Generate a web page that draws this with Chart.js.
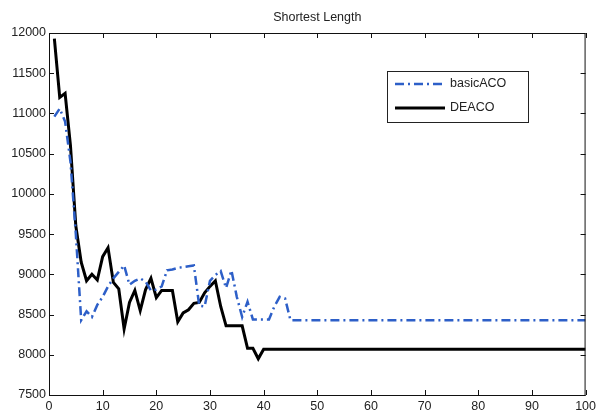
<!DOCTYPE html>
<html lang="en">
<head>
    <meta charset="UTF-8">
    <title>Shortest Length</title>
    <script src="https://cdn.jsdelivr.net/npm/chart.js"></script>
    <style>
        html, body { margin: 0; padding: 0; background: #fff; }
        canvas { display: block; }
    </style>
</head>
<body>
    <canvas id="lenChart" width="600" height="413"></canvas>
    <script>
        // iteration number on the x axis
        const iterations = [
            1, 2, 3, 4, 5, 6, 7, 8, 9, 10,
            11, 12, 13, 14, 15, 16, 17, 18, 19, 20,
            21, 22, 23, 24, 25, 26, 27, 28, 29, 30,
            31, 32, 33, 34, 35, 36, 37, 38, 39, 40,
            41, 42, 43, 44, 45, 46, 47, 48, 49, 50,
            51, 52, 53, 54, 55, 56, 57, 58, 59, 60,
            61, 62, 63, 64, 65, 66, 67, 68, 69, 70,
            71, 72, 73, 74, 75, 76, 77, 78, 79, 80,
            81, 82, 83, 84, 85, 86, 87, 88, 89, 90,
            91, 92, 93, 94, 95, 96, 97, 98, 99, 100
        ];

        const basicACO = [
            10960, 11060, 10900, 10400, 9500, 8430, 8540, 8470, 8620, 8720,
            8850, 8950, 9030, 9110, 8870, 8920, 8950, 8910, 8800, 8810,
            8850, 9050, 9060, 9080, 9090, 9100, 9110, 8610, 8600, 8920,
            8990, 9040, 8830, 9050, 8720, 8470, 8660, 8440, 8440, 8440,
            8440, 8600, 8720, 8700, 8430, 8430, 8430, 8430, 8430, 8430,
            8430, 8430, 8430, 8430, 8430, 8430, 8430, 8430, 8430, 8430,
            8430, 8430, 8430, 8430, 8430, 8430, 8430, 8430, 8430, 8430,
            8430, 8430, 8430, 8430, 8430, 8430, 8430, 8430, 8430, 8430,
            8430, 8430, 8430, 8430, 8430, 8430, 8430, 8430, 8430, 8430,
            8430, 8430, 8430, 8430, 8430, 8430, 8430, 8430, 8430, 8430
        ];

        const deACO = [
            11930, 11200, 11250, 10600, 9600, 9150, 8920, 9000, 8930, 9220,
            9330, 8900, 8820, 8320, 8650, 8800, 8550, 8810, 8950, 8710,
            8800, 8800, 8800, 8410, 8520, 8560, 8640, 8650, 8770, 8850,
            8920, 8600, 8360, 8360, 8360, 8360, 8080, 8080, 7950, 8070,
            8070, 8070, 8070, 8070, 8070, 8070, 8070, 8070, 8070, 8070,
            8070, 8070, 8070, 8070, 8070, 8070, 8070, 8070, 8070, 8070,
            8070, 8070, 8070, 8070, 8070, 8070, 8070, 8070, 8070, 8070,
            8070, 8070, 8070, 8070, 8070, 8070, 8070, 8070, 8070, 8070,
            8070, 8070, 8070, 8070, 8070, 8070, 8070, 8070, 8070, 8070,
            8070, 8070, 8070, 8070, 8070, 8070, 8070, 8070, 8070, 8070
        ];

        const seriesNames = ['basicACO', 'DEACO'];
        const xTicks = [0, 10, 20, 30, 40, 50, 60, 70, 80, 90, 100];
        const yTicks = [7500, 8000, 8500, 9000, 9500, 10000, 10500, 11000, 11500, 12000];

        const blue = 'rgb(45, 95, 200)';
        const fontFamily = '"Liberation Sans", Arial, sans-serif';
        const dashDot = [9, 4, 2, 4];

        const toPoints = (ys) => iterations.map((x, i) => ({ x: x, y: ys[i] }));

        // box frame, inward ticks, title and legend (matlab look)
        const framePlugin = {
            id: 'frame',
            afterDraw(chart) {
                const c = chart.ctx;
                const a = chart.chartArea;
                const xs = chart.scales.x;
                const ys = chart.scales.y;
                c.save();
                c.strokeStyle = '#111';
                c.lineWidth = 1;
                c.strokeRect(a.left + 0.5, a.top + 0.5, a.right - a.left - 1, a.bottom - a.top);
                c.beginPath();
                xTicks.forEach(t => {
                    const px = Math.round(xs.getPixelForValue(t)) + 0.5;
                    c.moveTo(px, a.bottom); c.lineTo(px, a.bottom - 5);
                    c.moveTo(px, a.top); c.lineTo(px, a.top + 5);
                });
                yTicks.forEach(t => {
                    const py = Math.round(ys.getPixelForValue(t)) + 0.5;
                    c.moveTo(a.left, py); c.lineTo(a.left + 5, py);
                    c.moveTo(a.right, py); c.lineTo(a.right - 5, py);
                });
                c.stroke();

                // title
                c.fillStyle = '#222';
                c.font = '12.5px ' + fontFamily;
                c.textAlign = 'center';
                c.textBaseline = 'middle';
                c.fillText('Shortest Length', (a.left + a.right) / 2, 18);

                // legend
                c.fillStyle = '#fff';
                c.fillRect(387, 71, 141, 51);
                c.strokeStyle = '#222';
                c.strokeRect(387.5, 71.5, 141, 51);
                c.lineWidth = 2.5;
                c.strokeStyle = blue;
                c.setLineDash(dashDot);
                c.beginPath(); c.moveTo(395, 84); c.lineTo(445, 84); c.stroke();
                c.setLineDash([]);
                c.lineWidth = 3;
                c.strokeStyle = '#000';
                c.beginPath(); c.moveTo(395, 108); c.lineTo(445, 108); c.stroke();
                c.fillStyle = '#222';
                c.textAlign = 'left';
                c.fillText(seriesNames[0], 450, 84);
                c.fillText(seriesNames[1], 450, 108);
                c.restore();
            }
        };

        const ctx = document.getElementById('lenChart').getContext('2d');
        new Chart(ctx, {
            type: 'line',
            data: {
                datasets: [
                    {
                        label: seriesNames[0],
                        data: toPoints(basicACO),
                        borderColor: blue,
                        borderWidth: 2.5,
                        borderDash: dashDot
                    },
                    {
                        label: seriesNames[1],
                        data: toPoints(deACO),
                        borderColor: '#000',
                        borderWidth: 3
                    }
                ]
            },
            options: {
                responsive: false,
                animation: false,
                layout: { padding: { top: 33, right: 11, left: 0, bottom: 0 } },
                elements: {
                    point: { radius: 0 },
                    line: { tension: 0, borderJoinStyle: 'miter' }
                },
                scales: {
                    x: {
                        type: 'linear',
                        min: 0,
                        max: 100,
                        grid: { display: false, drawTicks: false },
                        border: { display: false },
                        afterFit: (s) => { s.height = 18; },
                        afterBuildTicks: (s) => { s.ticks = xTicks.map(v => ({ value: v })); },
                        ticks: {
                            padding: 4,
                            color: '#222',
                            font: { family: fontFamily, size: 12.5 },
                            maxRotation: 0,
                            callback: (v) => String(v)
                        }
                    },
                    y: {
                        min: 7500,
                        max: 12000,
                        grid: { display: false, drawTicks: false },
                        border: { display: false },
                        afterFit: (s) => { s.width = 49; },
                        afterBuildTicks: (s) => { s.ticks = yTicks.map(v => ({ value: v })); },
                        ticks: {
                            padding: 3,
                            color: '#222',
                            font: { family: fontFamily, size: 12.5 },
                            callback: (v) => String(v)
                        }
                    }
                },
                plugins: {
                    legend: { display: false },
                    title: { display: false },
                    tooltip: { enabled: false }
                }
            },
            plugins: [framePlugin]
        });
    </script>
</body>
</html>
